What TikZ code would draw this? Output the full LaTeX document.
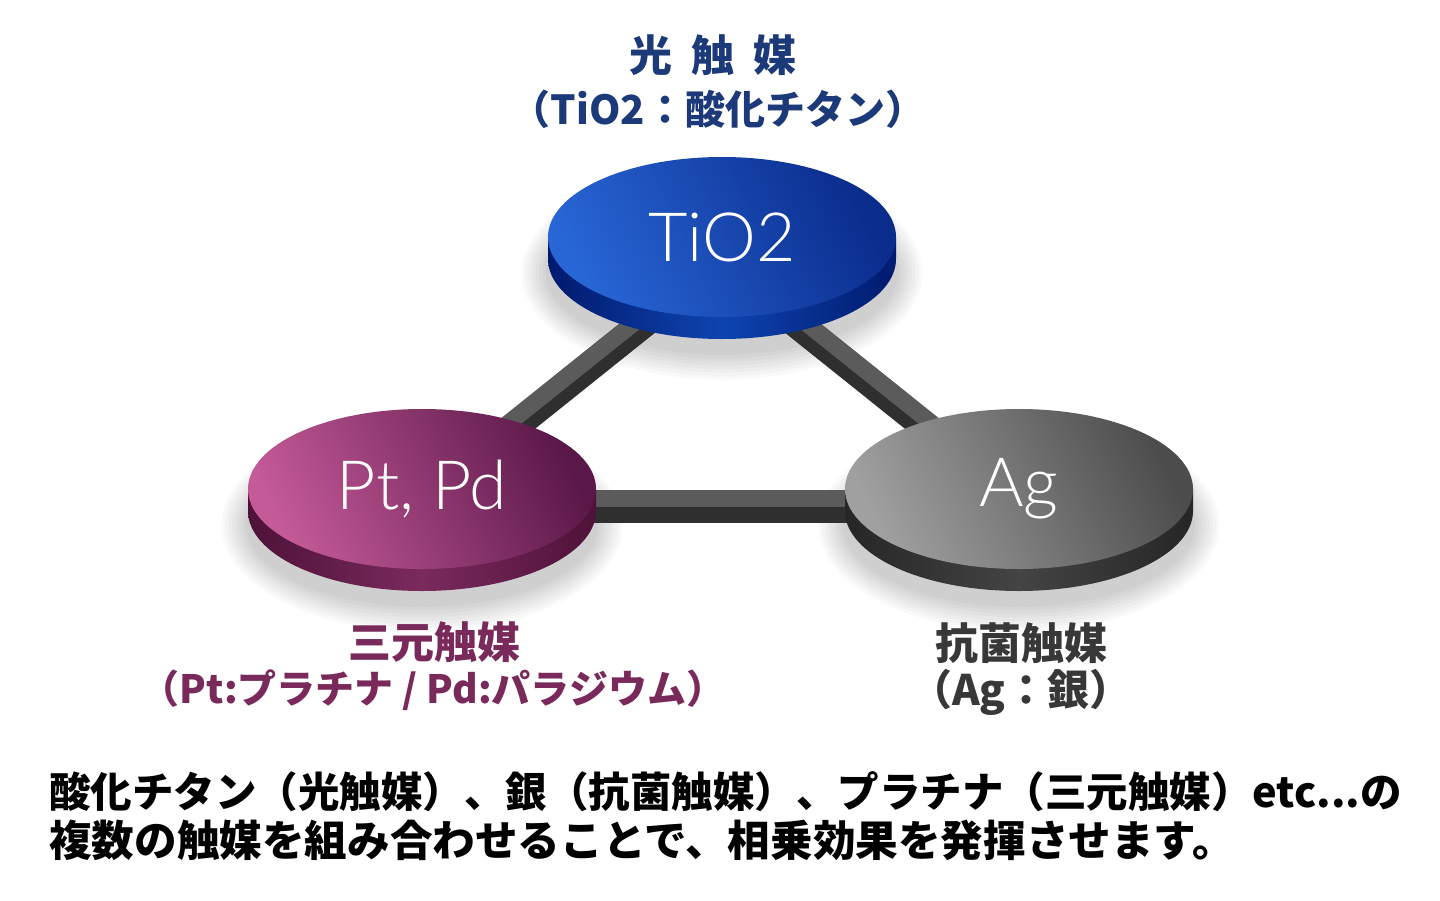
\documentclass[tikz,border=0pt]{standalone}
\usepackage{fontspec}
\usetikzlibrary{shapes.geometric}
\newfontfamily\jp{Noto Sans CJK JP}
\newfontfamily\thin{Lato Light}
\definecolor{tioL}{HTML}{2866D6}
\definecolor{tioM}{HTML}{1450C0}
\definecolor{tioD}{HTML}{0A2C8C}
\definecolor{tioS}{HTML}{001A6E}
\definecolor{tioSL}{HTML}{0E44B0}
\definecolor{ptL}{HTML}{C45A98}
\definecolor{ptM}{HTML}{993A78}
\definecolor{ptD}{HTML}{5A1848}
\definecolor{ptS}{HTML}{4E1238}
\definecolor{ptSL}{HTML}{7A2A5E}
\definecolor{agL}{HTML}{A0A0A0}
\definecolor{agM}{HTML}{7C7C7C}
\definecolor{agD}{HTML}{4C4C4C}
\definecolor{agS}{HTML}{262626}
\definecolor{agSL}{HTML}{444444}
\definecolor{barlight}{HTML}{5B5B5B}
\definecolor{bardark}{HTML}{2F2F2F}
\definecolor{navy}{HTML}{1C3A7A}
\definecolor{plum}{HTML}{7A2A5A}
\definecolor{dgray}{HTML}{383838}
\begin{document}
\begin{tikzpicture}[x=1pt,y=-1pt,
  disktop/.style={ellipse, minimum width=348pt, minimum height=160pt, inner sep=0pt,
    text=white, font=\thin\fontsize{68}{68}\selectfont},
  bartop/.style={line width=17pt, draw=barlight},
  barside/.style={line width=17pt, draw=bardark},
  biglab/.style={inner sep=0pt, font=\jp\bfseries\fontsize{43}{43}\selectfont},
  sublab/.style={inner sep=0pt, font=\jp\bfseries\fontsize{39}{39}\selectfont},
  bodytext/.style={inner sep=0pt, anchor=west, text=black, font=\jp\bfseries\fontsize{41.5}{41.5}\selectfont}]
\useasboundingbox (0,0) rectangle (1440,900);
\fill[white] (0,0) rectangle (1440,900);

% soft shadows
\foreach \cx/\cy in {722/237, 422/489, 1019/489}{
  \foreach \k in {0,...,7}{
    \fill[black, opacity=0.022] (\cx,\cy+36) ellipse [x radius={176pt+\k*3.5pt}, y radius={82pt+\k*3.5pt}];
  }
}

% disk positions
\coordinate (tioc) at (722,237);
\coordinate (ptc) at (422,489);
\coordinate (agc) at (1019,489);

% bars
\draw[barside] ([xshift=29pt,yshift=-8pt]tioc) -- ([xshift=13pt,yshift=-9pt]ptc);
\draw[bartop]  ([xshift=29pt,yshift=8pt]tioc) -- ([xshift=13pt,yshift=7pt]ptc);
\draw[barside] ([xshift=-33pt,yshift=-8pt]tioc) -- ([xshift=-14pt,yshift=-9pt]agc);
\draw[bartop]  ([xshift=-33pt,yshift=8pt]tioc) -- ([xshift=-14pt,yshift=7pt]agc);
\draw[barside] ([yshift=-25.5pt]ptc) -- ([yshift=-25.5pt]agc);
\draw[bartop]  ([yshift=-9.5pt]ptc) -- ([yshift=-9.5pt]agc);

% disk sides
\foreach \c/\s/\sl in {tioc/tioS/tioSL, ptc/ptS/ptSL, agc/agS/agSL}{
  \shade[left color=\s, right color=\s, middle color=\sl]
    ([xshift=-174pt]\c) -- ([xshift=-174pt,yshift=-22pt]\c)
    arc[start angle=180, end angle=360, x radius=174pt, y radius=80pt]
    -- ([xshift=174pt]\c) -- cycle;
}

% disk tops
\node[disktop, shading=axis, left color=tioL, middle color=tioM, right color=tioD, shading angle=115] (tio) at (tioc) {\raisebox{-4pt}{TiO2}};
\node[disktop, shading=axis, left color=ptL, middle color=ptM, right color=ptD, shading angle=115] (pt) at (ptc) {\raisebox{2pt}{Pt, Pd}};
\node[disktop, shading=axis, left color=agL, middle color=agM, right color=agD, shading angle=115] (ag) at (agc) {Ag};

% labels
\node[biglab, text=navy] (tiolab) at (713,55) {光\hspace{19pt}触\hspace{19pt}媒};
\node[sublab, text=navy, font=\jp\bfseries\fontsize{40}{40}\selectfont] (tiosub) at (718,109) {（TiO2：酸化チタン）};
\node[sublab, text=plum] (ptsub) at (433,690) {（Pt:プラチナ / Pd:パラジウム）};
\node[biglab, text=plum] (ptlab) at (434,642) {三元触媒};
\node[biglab, text=dgray] (aglab) at (1021,643) {抗菌触媒};
\node[sublab, text=dgray, font=\jp\bfseries\fontsize{42}{42}\selectfont] (agsub) at (1021,692) {（Ag：銀）};

% body text
\node[bodytext] (line1) at (49,792) {酸化チタン（光触媒）、銀（抗菌触媒）、プラチナ（三元触媒）etc...の};
\node[bodytext, font=\jp\bfseries\fontsize{42.6}{42.6}\selectfont] (line2) at (49,840) {複数の触媒を組み合わせることで、相乗効果を発揮させます。};
\end{tikzpicture}
\end{document}
